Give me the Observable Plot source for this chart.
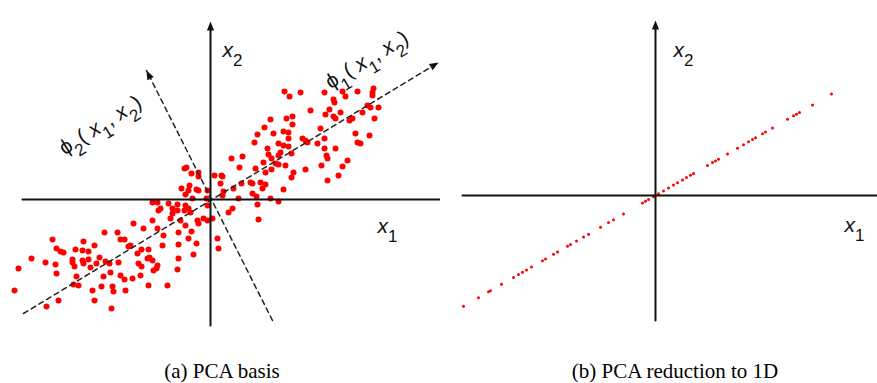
<!DOCTYPE html>
<html><head><meta charset="utf-8">
<script src="https://cdn.jsdelivr.net/npm/d3@7"></script>
<script src="https://cdn.jsdelivr.net/npm/@observablehq/plot@0.6"></script>
<style>
body{margin:0;background:#fff;}
#wrap{position:relative;width:877px;height:383px;overflow:hidden;background:#fff;}
.panel{position:absolute;top:0;}
.cap{position:absolute;top:360px;font-family:"Liberation Serif","Times New Roman",serif;font-size:21px;line-height:22px;white-space:nowrap;transform:translateX(-50%);color:#000;}
</style></head><body>
<div id="wrap"></div>
<script>
// ---------- DATA (units: x1, x2 relative to the origin) ----------
const basisPoints = [
[-7.7,-2.4],[-10.6,-3.3],[-9.3,-3.3],[-15.8,-4.0],[-9.0,-4.0],[-8.6,-4.0],[-12.7,-4.2],[-15.4,-4.9],[-15.0,-5.2],[-14.7,-5.3],
[-13.5,-5.0],[-12.8,-5.1],[-12.2,-5.2],[-11.6,-4.6],[-8.2,-4.7],[-8.0,-4.6],[-17.9,-5.9],[-19.2,-6.9],[-16.5,-6.3],[-15.5,-6.5],
[-13.8,-6.0],[-13.8,-6.3],[-12.8,-6.1],[-12.7,-6.4],[-12.2,-6.0],[-11.1,-5.8],[-10.5,-6.2],[-11.4,-6.4],[-13.6,-6.7],[-12.0,-6.8],
[-10.1,-6.4],[-9.2,-6.3],[-15.4,-7.4],[-13.4,-7.7],[-10.7,-7.7],[-10.0,-7.3],[-9.0,-7.6],[-8.6,-8.0],[-7.8,-7.9],[-13.7,-8.5],
[-13.2,-8.6],[-10.9,-8.7],[-9.8,-8.7],[-9.7,-9.2],[-11.8,-9.1],[-8.5,-9.1],[-19.6,-9.1],[-11.6,-10.1],[-15.2,-10.1],[-16.4,-10.7],
[-9.9,-10.9],
[-5.8,-0.3],[-5.3,-0.3],[-5.0,-0.9],[-5.2,-1.1],[-4.2,-0.4],[-3.8,-0.9],[-3.3,-0.5],[-3.3,-1.1],[-2.5,-0.6],[-2.2,-0.9],
[-2.6,-1.1],[-1.8,0.1],[-3.8,-1.4],[-4.0,-1.9],[-3.0,-2.1],[-2.5,-2.6],[-2.0,-1.3],[-1.3,-2.1],[-1.2,-2.4],[-0.7,-1.9],
[-0.3,-2.1],[0.2,-1.9],[-0.3,-0.6],[-0.4,0.1],[1.2,0.4],[1.8,-1.3],[2.2,-0.9],[2.8,0.1],[4.7,-0.5],[4.8,-2.0],
[0.7,-3.9],[0.8,-4.9],[-5.8,-2.1],[-6.7,-2.9],[-5.3,-2.9],[-4.7,-3.6],[-4.8,-4.6],[-3.2,-3.3],[-1.9,-3.2],[-2.2,-3.9],
[-1.4,-4.4],[-3.2,-4.5],[-1.7,-5.5],[-3.2,-5.9],[-3.3,-7.0],[-6.9,-5.0],[-6.2,-5.0],[-7.3,-5.4],[-7.2,-6.4],[-6.9,-6.7],
[-6.3,-5.9],[-6.1,-5.8],[-5.8,-6.1],[-5.3,-6.6],[-5.4,-6.9],[-5.7,-7.1],[-7.0,-7.6],[-6.2,-8.6],[-4.3,-8.6],
[-2.4,3.2],[-2.6,3.1],[-1.9,2.6],[-1.2,2.7],[-1.2,2.3],[-2.1,1.4],[-2.9,1.1],[-2.2,0.9],[-1.4,1.0],[-1.2,0.9],
[-2.5,0.5],[-0.3,0.9],[0.4,2.4],[1.1,2.4],[1.2,2.3],[1.0,1.6],[1.3,0.8],[2.1,4.1],[3.2,4.3],[2.9,3.2],
[3.1,1.6],[4.0,1.7],[4.2,1.6],[4.2,0.6],[5.0,1.7],[4.5,3.1],[5.4,7.2],[4.4,5.7],[4.7,6.5],[5.3,3.7],
[5.2,1.1],[2.3,1.1],[4.6,0.3],[5.5,2.7],[5.5,1.5],
[7.4,10.8],[7.9,10.3],[9.0,10.7],[11.4,10.7],[13.2,10.8],[13.5,10.3],[14.7,10.8],[16.3,11.1],[16.2,10.7],[16.2,10.4],
[12.3,10.0],[12.4,9.7],[10.0,8.9],[11.9,9.0],[11.5,8.5],[12.3,8.3],[12.5,8.1],[13.0,8.7],[13.9,7.9],[14.2,8.1],
[15.7,9.4],[16.0,9.2],[15.2,8.7],[16.8,9.2],[16.4,8.1],[6.0,8.0],[7.6,8.1],[8.2,8.3],[8.2,7.5],[6.3,6.6],
[7.3,6.8],[7.8,6.7],[7.8,6.1],[11.0,7.1],[11.4,6.1],[14.5,6.6],[15.9,6.4],[14.7,5.7],[15.0,5.6],[6.8,5.6],
[7.3,5.4],[7.8,5.3],[9.2,6.1],[9.5,5.9],[9.7,5.7],[10.7,5.6],[11.4,5.1],[12.5,5.1],[11.6,4.4],[11.7,4.1],
[5.7,5.1],[7.0,4.7],[6.8,4.4],[8.1,4.6],[5.8,4.5],[6.1,4.1],[6.5,3.6],[6.1,3.0],[6.8,3.5],[7.5,3.4],
[11.1,3.4],[13.2,3.3],[13.7,3.9],[9.5,3.0],[8.3,2.7],[8.1,2.2],[12.8,2.4],[11.7,1.9],[7.3,1.0],[6.0,0.1],
[6.8,-0.2]
];
// 1-D reduction: positions along the first principal direction (x1 coordinate of each projected point)
const reducedX1 = [-19.2,-17.7,-16.7,-16.5,-15.4,-14.2,-13.7,-13.3,-12.9,-12.4,-11.3,-11.0,-10.2,-9.8,-8.8,-8.5,-7.9,-7.2,-6.7,-5.5,
-4.7,-4.2,-3.2,-1.3,-1.0,-0.7,-0.2,0.3,0.8,1.3,1.8,2.2,2.7,3.1,3.5,3.8,5.2,5.7,6.0,6.3,7.2,8.2,8.8,9.3,9.7,10.0,10.7,11.0,11.7,13.2,13.8,14.1,14.4,15.7,17.6];
const pc1Slope = 0.577;
// basis directions (dashed arrows): [start, tip]
const phi1Ends = [[-18.7,-11.4],[22.8,13.7]];
const phi2Ends = [[6.2,-12.1],[-6.4,12.9]];
// axis extents
const axesA = {h:[-18.8,23.0], v:[-12.6,17.8]};
const axesB = {h:[-19.3,22.5], v:[-12.5,17.5]};
// labels
const labelsA = [
  {text:"x_2", x:1.2, y:14.3, rotate:0},
  {text:"x_1", x:16.7, y:-3.3, rotate:0},
  {text:"ϕ_1( x_1, x_2)", x:12.0, y:11.0, rotate:-31},
  {text:"ϕ_2( x_1, x_2)", x:-14.6, y:4.4, rotate:-32}
];
const labelsB = [
  {text:"x_2", x:1.8, y:13.9, rotate:0},
  {text:"x_1", x:18.9, y:-3.6, rotate:0}
];
const captions = ["(a) PCA basis", "(b) PCA reduction to 1D"];

// ---------- helpers ----------
function head(from, tip, L=0.9, W=0.36){
  const dx=tip[0]-from[0], dy=tip[1]-from[1], n=Math.hypot(dx,dy);
  const ux=dx/n, uy=dy/n, bx=tip[0]-ux*L, by=tip[1]-uy*L;
  return [{x:tip[0],y:tip[1]},{x:bx-uy*W,y:by+ux*W},{x:bx+uy*W,y:by-ux*W}];
}
function seg(a,b){return [{x:a[0],y:a[1]},{x:b[0],y:b[1]}];}
const FS=21, SUB=17, SHIFT=9;
function rich(svg){
  const ns="http://www.w3.org/2000/svg";
  svg.querySelectorAll('g[aria-label="text"] text').forEach(t=>{
    const s=t.textContent; if(!s.includes("_")) return;
    t.textContent="";
    let i=0, low=false;
    while(i<s.length){
      const sp=document.createElementNS(ns,"tspan");
      if(s[i]==="_"){
        sp.textContent=s[i+1]; sp.setAttribute("dy",String(SHIFT)); sp.setAttribute("font-size",String(SUB)); low=true; i+=2;
      } else {
        let j=i;
        if(s[i]==="x"){ j=i+1; sp.setAttribute("font-style","italic"); }
        else { while(j<s.length && s[j]!=="_" && s[j]!=="x") j++; }
        sp.textContent=s.slice(i,j);
        if(low){ sp.setAttribute("dy",String(-SHIFT)); low=false; }
        i=j;
      }
      t.appendChild(sp);
    }
  });
}
const textOpts = {x:"x", y:"y", text:"text", textAnchor:"start", lineAnchor:"bottom", fontSize:FS,
  fontFamily:"Liberation Sans, Arial, sans-serif", fill:"#111"};

// ---------- panel (a) ----------
const ptsA = basisPoints.map(([x,y])=>({x,y}));
const plotA = Plot.plot({
  width:440, height:345, margin:0,
  x:{domain:[-21.0,23.0], axis:null},
  y:{domain:[-14.6,19.9], axis:null},
  marks:[
    Plot.dot(ptsA,{x:"x",y:"y",r:3,fill:"#ff0000",stroke:"none"}),
    Plot.line(seg(phi1Ends[0],phi1Ends[1]),{x:"x",y:"y",stroke:"#222",strokeWidth:1.5,strokeDasharray:"5,4"}),
    Plot.line(head(phi1Ends[0],phi1Ends[1]),{x:"x",y:"y",fill:"#111",stroke:"none"}),
    Plot.line(seg(phi2Ends[0],phi2Ends[1]),{x:"x",y:"y",stroke:"#222",strokeWidth:1.5,strokeDasharray:"5,4"}),
    Plot.line(head(phi2Ends[0],phi2Ends[1]),{x:"x",y:"y",fill:"#111",stroke:"none"}),
    Plot.line(seg([axesA.h[0],0],[axesA.h[1],0]),{x:"x",y:"y",stroke:"#111",strokeWidth:2}),
    Plot.line(seg([0,axesA.v[0]],[0,axesA.v[1]-0.5]),{x:"x",y:"y",stroke:"#111",strokeWidth:2}),
    Plot.line(head([0,axesA.v[0]],[0,axesA.v[1]]),{x:"x",y:"y",fill:"#111",stroke:"none"}),
    ...labelsA.map(l=>Plot.text([l],{...textOpts, rotate:l.rotate}))
  ]
});
rich(plotA);
plotA.classList.add("panel"); plotA.style.left="0px";

// ---------- panel (b) ----------
const ptsB = reducedX1.map(x=>({x, y:x*pc1Slope}));
const plotB = Plot.plot({
  width:437, height:345, margin:0,
  x:{domain:[-21.5,22.2], axis:null},
  y:{domain:[-15.0,19.5], axis:null},
  marks:[
    Plot.dot(ptsB,{x:"x",y:"y",r:1.5,fill:"#ff0000",stroke:"none"}),
    Plot.line(seg([axesB.h[0],0],[axesB.h[1],0]),{x:"x",y:"y",stroke:"#111",strokeWidth:2}),
    Plot.line(seg([0,axesB.v[0]],[0,axesB.v[1]-0.5]),{x:"x",y:"y",stroke:"#111",strokeWidth:2}),
    Plot.line(head([0,axesB.v[0]],[0,axesB.v[1]]),{x:"x",y:"y",fill:"#111",stroke:"none"}),
    ...labelsB.map(l=>Plot.text([l],{...textOpts, rotate:l.rotate}))
  ]
});
rich(plotB);
plotB.classList.add("panel"); plotB.style.left="440px";

const wrap=document.getElementById("wrap");
wrap.appendChild(plotA); wrap.appendChild(plotB);
[222,675].forEach((cx,i)=>{
  const d=document.createElement("div"); d.className="cap"; d.style.left=cx+"px"; d.textContent=captions[i]; wrap.appendChild(d);
});
</script>
</body></html>
